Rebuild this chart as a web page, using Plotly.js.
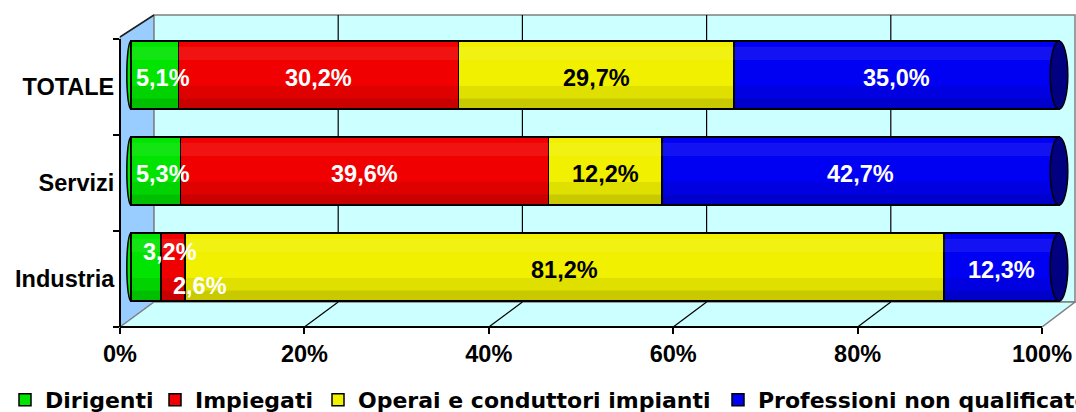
<!DOCTYPE html>
<html>
<head>
<meta charset="utf-8">
<script src="https://cdn.plot.ly/plotly-3.0.1.min.js"></script>
<style>
  html, body { margin: 0; padding: 0; background: #ffffff; }
  #chart { width: 1076px; height: 412px; }
</style>
</head>
<body>
<div id="chart"></div>
<script>
// ---------- DATA ----------
const categories = ['Industria', 'Servizi', 'TOTALE'];
const dirigenti   = [3.2, 5.3, 5.1];
const impiegati   = [2.6, 39.6, 30.2];
const operai      = [81.2, 12.2, 29.7];
const professioni = [12.3, 42.7, 35.0];
const seriesNames = ['Dirigenti', 'Impiegati', 'Operai e conduttori impianti', 'Professioni non qualificate'];
const xTickVals = [0, 20, 40, 60, 80, 100];

// ---------- STYLE ----------
const W = 1076, H = 412;
const FONT = 'Liberation Sans, Arial, sans-serif';
const LEGEND_FONT = 'DejaVu Sans, Verdana, sans-serif';
const FS = 23.5;
const colors = ['#00E400', '#F00000', '#F0F000', '#0000F2'];
const labelColors = ['#FFFFFF', '#FFFFFF', '#000000', '#FFFFFF'];
const px = v => v / W;
const py = v => 1 - v / H;

// 3D frame geometry (pixels)
const FRONT = { x0: 120, x1: 1042, y: 327, top: 37 };
const BACK  = { x0: 154, x1: 1075, top: 15, bottom: 302 };
const frontX = v => FRONT.x0 + (FRONT.x1 - FRONT.x0) * v / 100;
const backX  = v => BACK.x0 + (BACK.x1 - BACK.x0) * v / 100;

// bar depth plane: 0% and 100% pixel positions
const BAR0 = 131, BAR100 = 1059;
const BSCALE = (BAR100 - BAR0) / 100;
const XR = [-1, 101.8];

const seriesValues = [dirigenti, impiegati, operai, professioni];
const BAR_WIDTH = 0.71;
const HW = BAR_WIDTH / 2;

// ---------- TRACES ----------
const traces = seriesValues.map((vals, s) => ({
  type: 'bar',
  orientation: 'h',
  name: seriesNames[s],
  y: categories,
  x: vals,
  width: BAR_WIDTH,
  marker: { color: colors[s], line: { color: '#000000', width: 1.5 } },
  legend: s === 0 ? 'legend' : 'legend' + (s + 1),
  hovertemplate: '%{y}: %{x}<extra>' + seriesNames[s] + '</extra>'
}));

// invisible helper trace so the front category axis exists
traces.push({
  type: 'scatter', mode: 'markers',
  x: categories.map(() => 0), y: categories,
  xaxis: 'x3', yaxis: 'y2',
  marker: { opacity: 0 }, showlegend: false, hoverinfo: 'skip'
});

// ---------- SHAPES (3D frame) ----------
const shapes = [];
shapes.push({
  type: 'path', xref: 'paper', yref: 'paper', layer: 'below',
  path: `M${px(FRONT.x0)},${py(FRONT.top)} L${px(BACK.x0)},${py(BACK.top)} L${px(BACK.x0)},${py(BACK.bottom)} L${px(FRONT.x0)},${py(FRONT.y)} Z`,
  fillcolor: '#99CCFF', line: { color: '#808080', width: 1 }
});
shapes.push({
  type: 'rect', xref: 'paper', yref: 'paper', layer: 'below',
  x0: px(BACK.x0), x1: px(BACK.x1), y0: py(BACK.bottom), y1: py(BACK.top),
  fillcolor: '#CCFFFF', line: { color: '#808080', width: 1.5 }
});
shapes.push({
  type: 'path', xref: 'paper', yref: 'paper', layer: 'below',
  path: `M${px(FRONT.x0)},${py(FRONT.y)} L${px(BACK.x0)},${py(BACK.bottom)} L${px(BACK.x1)},${py(BACK.bottom)} L${px(FRONT.x1)},${py(FRONT.y)} Z`,
  fillcolor: '#CCFFFF', line: { color: '#808080', width: 1.5 }
});
shapes.push({
  type: 'line', xref: 'paper', yref: 'paper', layer: 'below',
  x0: px(FRONT.x0), y0: py(FRONT.top), x1: px(BACK.x0), y1: py(BACK.top),
  line: { color: '#202020', width: 1.5 }
});
xTickVals.filter(v => v > 0 && v < 100).forEach(v => {
  shapes.push({
    type: 'line', xref: 'paper', yref: 'paper', layer: 'below',
    x0: px(backX(v)), x1: px(backX(v)), y0: py(BACK.bottom), y1: py(BACK.top),
    line: { color: '#000000', width: 1.2 }
  });
  shapes.push({
    type: 'line', xref: 'paper', yref: 'paper', layer: 'below',
    x0: px(frontX(v)), y0: py(FRONT.y), x1: px(backX(v)), y1: py(BACK.bottom),
    line: { color: '#000000', width: 1.2 }
  });
});
// cylinder shading and caps
categories.forEach((c, i) => {
  shapes.push({
    type: 'circle', xref: 'x', yref: 'y', layer: 'below',
    x0: -0.45, x1: 0.45, y0: i - HW, y1: i + HW,
    fillcolor: colors[0], line: { color: '#000000', width: 1.5 }
  });
  // darker lower part, lighter upper highlight
  shapes.push({
    type: 'rect', xref: 'x', yref: 'y', layer: 'above',
    x0: 0, x1: 100, y0: i - HW + 0.01, y1: i - HW + 0.11,
    fillcolor: 'rgba(0,0,0,0.16)', line: { width: 0 }
  });
  shapes.push({
    type: 'rect', xref: 'x', yref: 'y', layer: 'above',
    x0: 0, x1: 100, y0: i - HW + 0.11, y1: i - HW + 0.24,
    fillcolor: 'rgba(0,0,0,0.07)', line: { width: 0 }
  });
  shapes.push({
    type: 'rect', xref: 'x', yref: 'y', layer: 'above',
    x0: 0, x1: 100, y0: i + HW - 0.2, y1: i + HW - 0.06,
    fillcolor: 'rgba(255,255,255,0.07)', line: { width: 0 }
  });
  shapes.push({
    type: 'circle', xref: 'x', yref: 'y', layer: 'above',
    x0: 99.05, x1: 100.95, y0: i - HW, y1: i + HW,
    fillcolor: '#000080', line: { color: '#000000', width: 1.5 }
  });
});

// ---------- DATA LABELS ----------
const annotations = [];
categories.forEach((c, i) => {
  const vals = seriesValues.map(arr => arr[i]);
  const total = vals.reduce((a, b) => a + b, 0);
  const narrowCount = vals.filter(v => v < 8).length;
  let cum = 0, narrowSeen = 0;
  vals.forEach((v, s) => {
    const start = cum / total * 100;
    const end = (cum + v) / total * 100;
    cum += v;
    const txt = v.toFixed(1).replace('.', ',') + '%';
    const a = {
      xref: 'x', yref: 'y', y: c, showarrow: false, text: txt,
      font: { family: FONT, size: FS, color: labelColors[s], weight: 'bold' }
    };
    if (v < 8) {
      a.x = start; a.xanchor = 'left';
      if (narrowCount >= 2) {
        a.xshift = 10;
        a.yshift = narrowSeen === 0 ? 15 : -19;
      } else {
        a.xshift = 3; a.yshift = -3;
      }
      narrowSeen++;
    } else {
      a.x = (start + end) / 2; a.xanchor = 'center'; a.yshift = -3;
    }
    annotations.push(a);
  });
});

// ---------- LEGENDS ----------
const legendCenters = [27, 177, 340, 740];
const legendBase = {
  orientation: 'h', xanchor: 'left', yanchor: 'middle', y: py(400),
  bgcolor: 'rgba(0,0,0,0)', borderwidth: 0,
  font: { family: LEGEND_FONT, size: 22, color: '#000000', weight: 'bold' },
  itemclick: false, itemdoubleclick: false
};

const layout = {
  width: W, height: H,
  margin: { l: 0, r: 0, t: 0, b: 0, autoexpand: false },
  paper_bgcolor: '#FFFFFF',
  plot_bgcolor: 'rgba(0,0,0,0)',
  barmode: 'stack',
  barnorm: 'percent',
  showlegend: true,
  font: { family: FONT, size: FS, color: '#000000' },
  xaxis: {
    domain: [px(BAR0 + XR[0] * BSCALE), px(BAR0 + XR[1] * BSCALE)],
    range: XR, visible: false, fixedrange: true
  },
  yaxis: { domain: [py(315), py(27)], range: [-0.5, 2.5], type: 'category', visible: false, fixedrange: true },
  xaxis3: {
    domain: [px(FRONT.x0), px(FRONT.x1)], anchor: 'free', position: py(FRONT.y),
    range: [0, 100], tickmode: 'array', tickvals: xTickVals, ticktext: xTickVals.map(v => v + '%'),
    ticks: 'outside', ticklen: 6, tickwidth: 2, tickcolor: '#000000',
    showline: true, linecolor: '#000000', linewidth: 2,
    showgrid: false, zeroline: false, fixedrange: true,
    tickfont: { family: FONT, size: FS, color: '#000000', weight: 'bold' }
  },
  yaxis2: {
    domain: [py(FRONT.y), py(39)], anchor: 'free', position: px(FRONT.x0),
    type: 'category', range: [-0.5, 2.5], tickson: 'boundaries',
    ticks: 'outside', ticklen: 6, tickwidth: 2, tickcolor: '#000000',
    showline: true, linecolor: '#000000', linewidth: 2,
    showgrid: false, zeroline: false, fixedrange: true,
    tickfont: { family: FONT, size: FS, color: '#000000', weight: 'bold' }
  },
  shapes: shapes,
  annotations: annotations
};
legendCenters.forEach((cx, s) => {
  const key = s === 0 ? 'legend' : 'legend' + (s + 1);
  layout[key] = Object.assign({}, legendBase, { x: px(cx - 22) });
});

Plotly.newPlot('chart', traces, layout, { displayModeBar: false, staticPlot: true });
</script>
</body>
</html>
